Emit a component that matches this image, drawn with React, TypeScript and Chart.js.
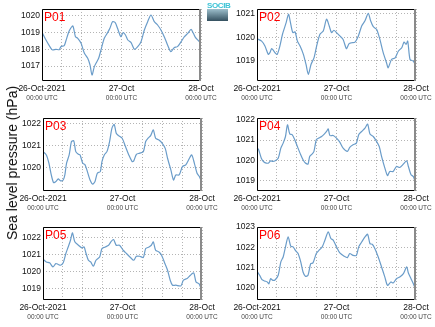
import React, { useEffect, useRef } from 'react';
import { Chart, registerables } from 'chart.js';

Chart.register(...registerables);
Chart.defaults.font.family = '"Liberation Sans", Arial, sans-serif';

// ---- data (hours since 26-Oct-2021 00:00 UTC, sea level pressure in hPa) ----
const hoursP01 = [0, 1.2, 2.7, 3.2, 4.2, 5.2, 5.7, 6.7, 7.2, 8.2, 9.3, 10.1, 10.8, 11.8, 12.8, 13.8, 14.5, 15.1, 15.8, 16.3, 17.1, 17.8, 18.8, 19.8, 20.5, 21.3, 22.1, 22.8, 23.8, 24.5, 25.2, 25.9, 26.9, 27.9, 28.9, 29.9, 30.9, 31.9, 32.9, 33.9, 34.9, 35.9, 36.9, 37.9, 38.9, 39.9, 40.9, 42.0, 43.0, 44.0, 45.0, 45.7, 46.3, 47.5, 48];
const valuesP01 = [1019.02, 1018.56, 1018.06, 1017.96, 1018.0, 1017.98, 1018.16, 1018.22, 1018.5, 1019.1, 1019.4, 1018.76, 1018.66, 1018.36, 1017.76, 1017.46, 1017.06, 1016.46, 1016.96, 1017.16, 1017.46, 1017.96, 1018.66, 1019.0, 1019.26, 1019.66, 1019.6, 1019.26, 1018.76, 1019.0, 1018.86, 1018.56, 1018.4, 1018.0, 1018.16, 1018.46, 1019.16, 1019.66, 1020.06, 1019.66, 1019.46, 1019.16, 1018.76, 1018.26, 1017.86, 1018.1, 1018.16, 1018.46, 1018.76, 1018.96, 1019.2, 1018.96, 1018.72, 1018.46, 1018.26];

const hoursP02 = [0, 1.4, 2.4, 3.4, 3.9, 4.4, 4.9, 5.4, 6.1, 6.9, 7.7, 8.8, 9.5, 10, 10.8, 11.5, 12.2, 13, 14, 14.8, 15.5, 16.3, 17.2, 18, 19, 20, 21, 21.8, 22.5, 23.2, 24, 25, 26, 27, 27.8, 28.6, 29.6, 30.6, 31.6, 32.6, 33.6, 34.3, 35.1, 36.1, 37.1, 38.1, 39.1, 39.6, 40.6, 41.7, 42.7, 43.7, 44.4, 45, 45.5, 46.2, 47.2, 48];
const valuesP02 = [1019.94, 1019.84, 1019.63, 1019.28, 1019.35, 1019.52, 1019.46, 1019.35, 1019.28, 1019.63, 1020.13, 1020.62, 1020.98, 1020.7, 1020.2, 1020.23, 1019.84, 1019.63, 1019.28, 1018.85, 1018.43, 1018.85, 1019.13, 1019.63, 1020.13, 1020.27, 1020.77, 1020.48, 1020.2, 1020.3, 1020.2, 1020.06, 1019.91, 1019.52, 1019.73, 1019.77, 1019.8, 1020.06, 1020.48, 1020.7, 1021.02, 1020.7, 1020.45, 1020.34, 1019.91, 1019.35, 1018.92, 1018.71, 1019.06, 1019.13, 1019.42, 1019.56, 1019.8, 1019.7, 1019.84, 1019.06, 1018.99, 1018.78];

const hoursP03 = [0, 1.0, 1.8, 2.5, 3.2, 3.9, 4.6, 5.3, 6.1, 6.6, 7.1, 7.9, 8.6, 9.3, 9.9, 10.7, 11.2, 12.0, 12.7, 13.4, 14.2, 15.0, 15.7, 16.4, 17.3, 17.8, 18.5, 19.3, 20.1, 20.8, 21.5, 22.1, 22.8, 23.9, 24.9, 25.9, 26.9, 27.4, 28.2, 29.2, 30.3, 31.0, 31.7, 32.5, 33.3, 34.0, 35.0, 36.0, 36.9, 37.6, 38.6, 39.4, 40.1, 41.1, 42.1, 43.1, 44.2, 44.9, 45.7, 46.5, 47.2, 48];
const valuesP03 = [1020.74, 1020.59, 1020.21, 1019.68, 1019.33, 1019.38, 1019.5, 1019.41, 1019.45, 1019.68, 1020.21, 1020.59, 1021.2, 1021.23, 1020.74, 1020.62, 1020.59, 1020.21, 1020.14, 1019.83, 1019.45, 1019.26, 1019.38, 1019.76, 1019.83, 1020.29, 1020.59, 1020.74, 1021.2, 1021.8, 1021.98, 1021.58, 1021.47, 1021.35, 1020.97, 1020.59, 1020.29, 1020.32, 1020.62, 1020.67, 1020.74, 1021.2, 1021.35, 1021.47, 1021.73, 1021.35, 1021.27, 1021.12, 1020.89, 1020.44, 1019.91, 1019.45, 1019.68, 1019.68, 1020.06, 1020.14, 1020.44, 1020.59, 1020.21, 1019.76, 1019.61, 1019.3];

const hoursP04 = [0, 0.5, 1.3, 2.1, 2.8, 3.5, 4.1, 4.8, 5.5, 6.4, 7.2, 7.9, 8.6, 9.2, 9.9, 10.6, 11.4, 12.2, 13.2, 13.9, 14.6, 15.4, 15.9, 16.6, 17.2, 17.9, 18.6, 19.5, 20.3, 21.0, 21.5, 22.0, 23.0, 24.0, 25.0, 26.0, 27.3, 28.0, 29.0, 30.0, 30.7, 31.6, 32.6, 33.4, 34.1, 35.1, 36.1, 36.9, 37.6, 38.6, 39.4, 40.1, 41.1, 42.1, 43.1, 44.2, 45.2, 45.7, 46.5, 47.2, 48];
const valuesP04 = [1020.64, 1020.52, 1020.1, 1019.91, 1019.86, 1019.86, 1019.97, 1019.94, 1019.97, 1020.1, 1020.6, 1020.85, 1021.18, 1021.76, 1021.3, 1021.27, 1021.02, 1020.68, 1020.27, 1020.02, 1019.86, 1019.81, 1020.19, 1020.3, 1020.44, 1021.02, 1021.1, 1021.18, 1021.3, 1021.43, 1021.56, 1021.23, 1021.23, 1021.1, 1020.9, 1020.6, 1020.44, 1020.64, 1020.77, 1020.85, 1021.27, 1021.43, 1021.6, 1021.8, 1021.3, 1021.18, 1020.93, 1020.68, 1020.19, 1019.61, 1019.24, 1019.44, 1019.44, 1019.69, 1019.64, 1019.81, 1019.97, 1019.69, 1019.28, 1019.19, 1018.78];

const hoursP05 = [0, 1.0, 2.0, 3.0, 3.9, 4.6, 5.3, 6.1, 6.9, 7.6, 8.3, 8.9, 9.6, 10.7, 11.7, 12.4, 13.0, 13.7, 14.4, 15.2, 16.0, 17.1, 17.8, 18.8, 19.8, 20.5, 21.3, 22.1, 23.1, 24.2, 25.2, 26.4, 27.4, 28.2, 29.2, 30.3, 31.0, 32.0, 32.7, 33.3, 34.0, 35.0, 35.8, 36.8, 37.6, 38.4, 39.1, 40.1, 41.6, 42.4, 43.5, 44.5, 45.5, 46.2, 47.2, 48];
const valuesP05 = [1020.73, 1020.57, 1020.52, 1020.28, 1020.48, 1020.42, 1020.38, 1020.52, 1021.06, 1021.44, 1021.83, 1022.26, 1021.74, 1021.54, 1021.39, 1021.44, 1021.06, 1020.67, 1020.57, 1020.32, 1020.67, 1020.86, 1021.35, 1021.44, 1021.54, 1021.74, 1021.87, 1021.54, 1021.54, 1021.25, 1021.06, 1020.83, 1020.67, 1020.9, 1020.9, 1020.83, 1021.35, 1021.44, 1021.54, 1021.74, 1021.25, 1021.15, 1020.96, 1020.48, 1020.09, 1019.51, 1019.22, 1019.22, 1019.18, 1019.51, 1019.61, 1019.8, 1019.94, 1019.41, 1019.28, 1018.83];

const hoursP06 = [0, 0.8, 1.5, 2.3, 3.1, 3.6, 4.1, 4.8, 5.5, 6.4, 7.2, 7.9, 8.6, 9.4, 10.2, 10.9, 11.7, 12.4, 13.2, 13.9, 14.6, 15.4, 16.2, 16.9, 17.9, 18.9, 19.7, 20.5, 21.5, 22.3, 23.0, 24.0, 25.0, 26.3, 27.3, 28.0, 29.0, 30.0, 30.7, 31.6, 32.6, 33.4, 34.1, 34.8, 35.6, 36.6, 37.6, 38.6, 39.4, 40.4, 41.1, 42.1, 43.1, 44.2, 45.2, 45.7, 46.5, 47.2, 48];
const valuesP06 = [1020.83, 1020.62, 1020.4, 1020.34, 1020.29, 1020.2, 1020.45, 1020.37, 1020.4, 1020.62, 1021.28, 1021.52, 1022.02, 1022.51, 1022.05, 1022.02, 1021.82, 1021.69, 1021.28, 1020.78, 1020.57, 1020.62, 1021.19, 1021.23, 1021.69, 1021.88, 1022.02, 1022.35, 1022.76, 1022.43, 1022.35, 1022.02, 1021.72, 1021.56, 1021.49, 1021.69, 1021.6, 1021.6, 1022.02, 1022.26, 1022.51, 1022.64, 1022.18, 1022.15, 1021.93, 1021.52, 1021.03, 1020.53, 1020.12, 1020.29, 1020.24, 1020.45, 1020.53, 1020.7, 1021.03, 1020.73, 1020.45, 1020.2, 1019.87];

const yTicksP01 = [1017, 1018, 1019, 1020];
const yTicksP02 = [1019, 1020, 1021];
const yTicksP03 = [1020, 1021, 1022];
const yTicksP04 = [1019, 1020, 1021, 1022];
const yTicksP05 = [1019, 1020, 1021, 1022];
const yTicksP06 = [1020, 1021, 1022, 1023];

const yRangeP01 = [1016.1, 1020.42];
const yRangeP02 = [1018.15, 1021.2];
const yRangeP03 = [1018.95, 1022.27];
const yRangeP04 = [1018.47, 1022.1];
const yRangeP05 = [1018.36, 1022.6];
const yRangeP06 = [1019.4, 1023.0];

const xGridHours = [0, 6, 12, 18, 24, 30, 36, 42, 48];
const xLabelHours = [0, 24, 48];
const xLabels = ['26-Oct-2021', '27-Oct', '28-Oct'];
const xSubLabel = '00:00 UTC';
const yAxisTitle = 'Sea level pressure (hPa)';
const logoText = 'SOCIB';

type Box = { l: number; t: number; yw: number };

const LINE_COLOR = '#6a9cc9';
const GRID_COLOR = '#b4b4b4';
const PLOT_W = 159;
const RIGHT_PAD = 16;
const TOP_PAD = 9;
const X_H = 13;
const X2_H = 9;

function Panel(props: { name: string; hours: number[]; values: number[]; yTicks: number[]; yRange: number[]; box: Box; plotH: number }) {
  const { name, hours, values, yTicks, yRange, box, plotH } = props;
  const ref = useRef<HTMLCanvasElement>(null);
  const w = box.yw + PLOT_W + RIGHT_PAD;
  const h = TOP_PAD + plotH + X_H + X2_H;
  useEffect(() => {
    const framePlugin = {
      id: 'frame_' + name,
      afterDraw(chart: any) {
        const { ctx, chartArea: a } = chart;
        ctx.save();
        ctx.strokeStyle = '#000';
        ctx.lineWidth = 1;
        ctx.beginPath();
        ctx.moveTo(a.right, a.top + 0.5);
        ctx.lineTo(a.left + 0.5, a.top + 0.5);
        ctx.lineTo(a.left + 0.5, a.bottom - 0.5);
        ctx.lineTo(a.right, a.bottom - 0.5);
        ctx.stroke();
        ctx.strokeStyle = '#8a8a8a';
        ctx.lineWidth = 2;
        ctx.beginPath();
        ctx.moveTo(a.right - 1, a.top);
        ctx.lineTo(a.right - 1, a.bottom);
        ctx.stroke();
        ctx.fillStyle = '#ff0000';
        ctx.font = '12px "Liberation Sans", Arial, sans-serif';
        ctx.textBaseline = 'alphabetic';
        ctx.textAlign = 'left';
        ctx.fillText(name, a.left + 2, a.top + 12);
        ctx.restore();
      },
    };
    const chart = new Chart(ref.current as HTMLCanvasElement, {
      type: 'line',
      data: {
        datasets: [
          {
            data: hours.map((hh, i) => ({ x: hh, y: values[i] })),
            borderColor: LINE_COLOR,
            borderWidth: 1.2,
            pointRadius: 0,
            tension: 0.25,
            fill: false,
          },
        ],
      },
      options: {
        animation: false,
        responsive: false,
        maintainAspectRatio: false,
        layout: { padding: { top: TOP_PAD, right: RIGHT_PAD, left: 0, bottom: 0 } },
        plugins: { legend: { display: false }, tooltip: { enabled: false }, title: { display: false } },
        scales: {
          x: {
            type: 'linear',
            position: 'bottom',
            weight: 0,
            min: 0,
            max: 48,
            afterBuildTicks: (s: any) => {
              s.ticks = xGridHours.map((v) => ({ value: v }));
            },
            afterFit: (s: any) => {
              s.height = X_H;
            },
            grid: { color: GRID_COLOR, drawTicks: false, lineWidth: 1 },
            border: { display: false, dash: [1, 2] },
            ticks: {
              autoSkip: false,
              maxRotation: 0,
              padding: 3,
              color: '#111',
              font: { size: 8.5 },
              callback: (v: any) => {
                const i = xLabelHours.indexOf(Number(v));
                return i >= 0 ? xLabels[i] : '';
              },
            },
          },
          x2: {
            type: 'linear',
            position: 'bottom',
            weight: 1,
            min: 0,
            max: 48,
            afterBuildTicks: (s: any) => {
              s.ticks = xLabelHours.map((v) => ({ value: v }));
            },
            afterFit: (s: any) => {
              s.height = X2_H;
            },
            grid: { display: false, drawTicks: false },
            border: { display: false },
            ticks: {
              autoSkip: false,
              maxRotation: 0,
              padding: 0,
              color: '#444',
              font: { size: 6.5 },
              callback: () => xSubLabel,
            },
          },
          y: {
            type: 'linear',
            position: 'left',
            min: yRange[0],
            max: yRange[1],
            afterBuildTicks: (s: any) => {
              s.ticks = yTicks.map((v) => ({ value: v }));
            },
            afterFit: (s: any) => {
              s.width = box.yw;
            },
            grid: { color: GRID_COLOR, drawTicks: false, lineWidth: 1 },
            border: { display: false, dash: [1, 2] },
            ticks: {
              padding: 2,
              color: '#111',
              font: { size: 8.5 },
              callback: (v: any) => String(v),
            },
          },
        },
      } as any,
      plugins: [framePlugin],
    });
    return () => chart.destroy();
  }, []);
  return (
    <canvas
      ref={ref}
      width={w}
      height={h}
      style={{ position: 'absolute', left: box.l, top: box.t, width: w, height: h }}
    />
  );
}

export default function App() {
  return (
    <div style={{ position: 'absolute', left: 0, top: 0, width: 435, height: 327, background: '#fff', overflow: 'hidden' }}>
      <Panel name="P01" hours={hoursP01} values={valuesP01} yTicks={yTicksP01} yRange={yRangeP01} box={{ l: 0, t: 0, yw: 42 }} plotH={72} />
      <Panel name="P02" hours={hoursP02} values={valuesP02} yTicks={yTicksP02} yRange={yRangeP02} box={{ l: 215, t: 0, yw: 42 }} plotH={72} />
      <Panel name="P03" hours={hoursP03} values={valuesP03} yTicks={yTicksP03} yRange={yRangeP03} box={{ l: 0, t: 109, yw: 43 }} plotH={73} />
      <Panel name="P04" hours={hoursP04} values={valuesP04} yTicks={yTicksP04} yRange={yRangeP04} box={{ l: 215, t: 109, yw: 42 }} plotH={73} />
      <Panel name="P05" hours={hoursP05} values={valuesP05} yTicks={yTicksP05} yRange={yRangeP05} box={{ l: 0, t: 218, yw: 43 }} plotH={73} />
      <Panel name="P06" hours={hoursP06} values={valuesP06} yTicks={yTicksP06} yRange={yRangeP06} box={{ l: 215, t: 218, yw: 42 }} plotH={73} />
      <div
        style={{
          position: 'absolute',
          left: 12,
          top: 163,
          transform: 'translate(-50%, -50%) rotate(-90deg)',
          whiteSpace: 'nowrap',
          font: '14px "Liberation Sans", Arial, sans-serif',
          color: '#111',
        }}
      >
        {yAxisTitle}
      </div>
      <div style={{ position: 'absolute', left: 207, top: 2, width: 21, height: 19 }}>
        <div style={{ font: 'bold 8px "Liberation Sans", Arial, sans-serif', lineHeight: '7px', height: 7, color: '#3cc3d6', textAlign: 'center', letterSpacing: '-0.4px', overflow: 'visible', whiteSpace: 'nowrap' }}>{logoText}</div>
        <div style={{ width: 21, height: 12, background: 'linear-gradient(#9dbfcc, #34505f)' }} />
      </div>
    </div>
  );
}
